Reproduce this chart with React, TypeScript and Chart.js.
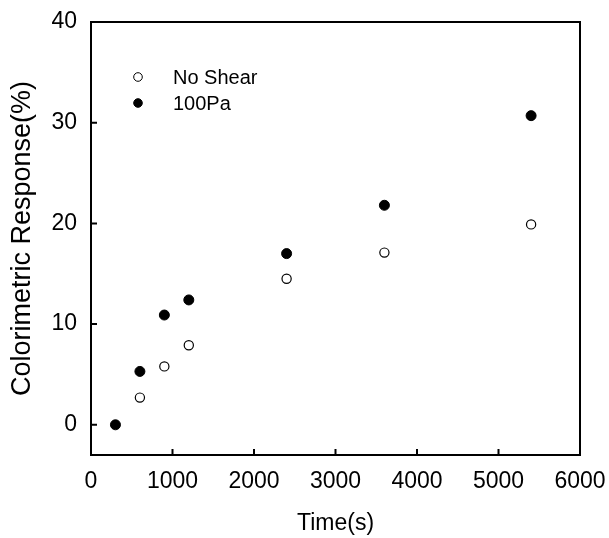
import React, { useEffect, useRef } from "react";
import { Chart, registerables } from "chart.js";

Chart.register(...registerables);

const FONT = "'Liberation Sans', Arial, Helvetica, sans-serif";

const noShearTimes = [600, 900, 1200, 2400, 3600, 5400];
const noShearValues = [2.7, 5.8, 7.9, 14.5, 17.1, 19.9];

const pa100Times = [300, 600, 900, 1200, 2400, 3600, 5400];
const pa100Values = [0, 5.3, 10.9, 12.4, 17.0, 21.8, 30.7];

const seriesLabels = ["No Shear", "100Pa"];

const xTitle = "Time(s)";
const yTitle = "Colorimetric Response(%)";

const xMin = 0;
const xMax = 6000;
const xStep = 1000;
const yMin = -3;
const yMax = 40;
const yStep = 10;

const boxAndTicks = {
  id: "boxAndTicks",
  afterDatasetsDraw(chart: any) {
    const { ctx, chartArea, scales } = chart;
    const { left, right, top, bottom } = chartArea;
    ctx.save();
    ctx.strokeStyle = "#000";
    ctx.lineWidth = 2;
    ctx.strokeRect(left, top, right - left, bottom - top);
    const tl = 6;
    ctx.beginPath();
    scales.x.ticks.forEach((t: any) => {
      const px = scales.x.getPixelForValue(t.value);
      ctx.moveTo(px, bottom);
      ctx.lineTo(px, bottom - tl);
    });
    scales.y.ticks.forEach((t: any) => {
      const py = scales.y.getPixelForValue(t.value);
      ctx.moveTo(left, py);
      ctx.lineTo(left + tl, py);
    });
    ctx.stroke();
    ctx.restore();
  },
};

const insideLegend = {
  id: "insideLegend",
  afterDraw(chart: any) {
    const { ctx, chartArea } = chart;
    ctx.save();
    ctx.font = `20px ${FONT}`;
    ctx.textBaseline = "middle";
    ctx.textAlign = "left";
    chart.data.datasets.forEach((ds: any, i: number) => {
      const mx = chartArea.left + 47;
      const my = chartArea.top + 55 + i * 26;
      ctx.beginPath();
      ctx.arc(mx, my, 4.3, 0, Math.PI * 2);
      ctx.fillStyle = ds.pointBackgroundColor;
      ctx.fill();
      ctx.lineWidth = 1;
      ctx.strokeStyle = ds.pointBorderColor;
      ctx.stroke();
      ctx.fillStyle = "#000";
      ctx.fillText(ds.label, chartArea.left + 82, my + 1);
    });
    ctx.restore();
  },
};

export default function App() {
  const ref = useRef<HTMLCanvasElement | null>(null);

  useEffect(() => {
    if (!ref.current) return;
    const chart = new Chart(ref.current, {
      type: "scatter",
      data: {
        datasets: [
          {
            label: seriesLabels[0],
            data: noShearTimes.map((t, i) => ({ x: t, y: noShearValues[i] })),
            pointRadius: 4.6,
            pointBackgroundColor: "#fff",
            pointBorderColor: "#000",
            pointBorderWidth: 1.2,
          },
          {
            label: seriesLabels[1],
            data: pa100Times.map((t, i) => ({ x: t, y: pa100Values[i] })),
            pointRadius: 5,
            pointBackgroundColor: "#000",
            pointBorderColor: "#000",
            pointBorderWidth: 1,
          },
        ],
      },
      options: {
        animation: false,
        responsive: false,
        layout: { padding: { left: 0, right: 29, top: 22, bottom: 0 } },
        plugins: {
          legend: { display: false },
          tooltip: { enabled: false },
        },
        scales: {
          x: {
            type: "linear",
            min: xMin,
            max: xMax,
            ticks: {
              stepSize: xStep,
              color: "#000",
              font: { family: FONT, size: 23 },
              padding: 13,
              maxRotation: 0,
              callback: (v: any) => String(v),
            },
            grid: { display: false, drawTicks: false },
            border: { display: false },
            title: {
              display: true,
              text: xTitle,
              color: "#000",
              font: { family: FONT, size: 23 },
              padding: { top: 0, bottom: 1 },
            },
            afterFit(scale: any) {
              scale.height = 83;
              scale.paddingLeft = 0;
              scale.paddingRight = 0;
            },
          },
          y: {
            type: "linear",
            min: yMin,
            max: yMax,
            afterBuildTicks(scale: any) {
              const ticks = [];
              for (let v = 0; v <= yMax; v += yStep) ticks.push({ value: v });
              scale.ticks = ticks;
            },
            ticks: {
              color: "#000",
              font: { family: FONT, size: 23 },
              padding: 14,
              callback: (v: any) => String(v),
            },
            grid: { display: false, drawTicks: false },
            border: { display: false },
            title: {
              display: true,
              text: yTitle,
              color: "#000",
              font: { family: FONT, size: 27 },
              padding: { top: 6, bottom: 0 },
            },
            afterFit(scale: any) {
              scale.width = 91;
              scale.paddingTop = 0;
              scale.paddingBottom = 0;
            },
          },
        },
      },
      plugins: [boxAndTicks, insideLegend],
    });
    return () => chart.destroy();
  }, []);

  return (
    <div style={{ position: "fixed", left: 0, top: 0, width: 609, height: 538, background: "#fff" }}>
      <canvas ref={ref} width={609} height={538} style={{ display: "block" }} />
    </div>
  );
}
